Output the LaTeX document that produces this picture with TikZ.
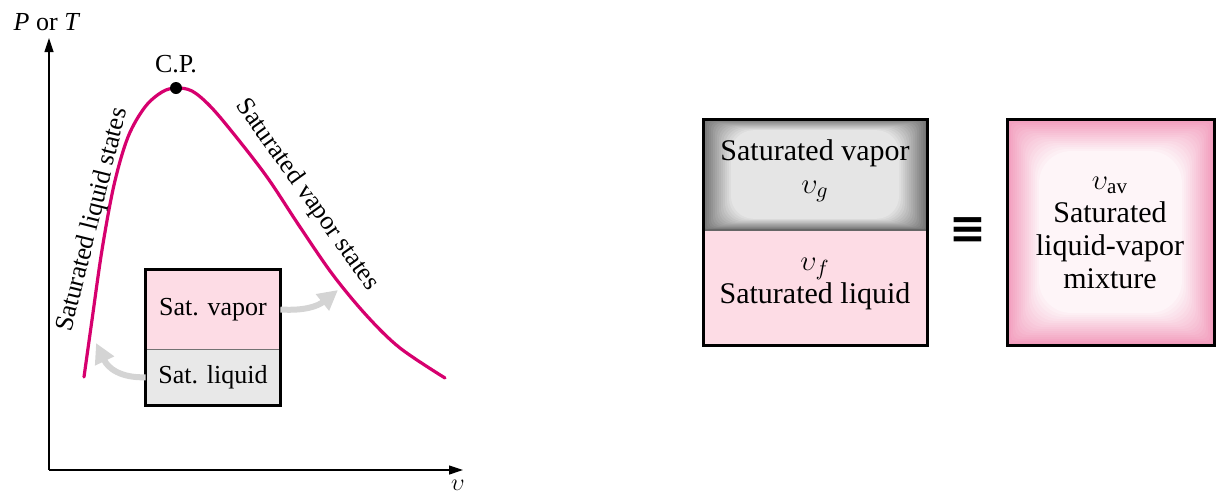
\documentclass[tikz,border=0pt]{standalone}
\usepackage{fontspec}
\setmainfont{Liberation Serif}
\newfontfamily\symfont{DejaVu Sans}
\usetikzlibrary{arrows.meta,positioning,calc}
\definecolor{satline}{RGB}{214,0,110}
\definecolor{vappink}{HTML}{FDDCE5}
\definecolor{liqgray}{HTML}{E8E8E8}
\definecolor{mixedge}{HTML}{F29CBC}
\definecolor{hintgray}{HTML}{D4D4D4}

\begin{document}
\begin{tikzpicture}[x=0.5pt, y=-0.5pt,
  axis/.style={line width=0.6pt, -{Triangle[length=7pt,width=4.5pt]}},
  dome/.style={satline, line width=1.6pt, line cap=round},
  lbl/.style={font=\fontsize{13}{15}\selectfont, inner sep=1pt},
  phase/.style={minimum width=67pt, inner sep=0pt, font=\fontsize{13}{15}\selectfont},
  hint/.style={hintgray, line width=3pt, -{Triangle[length=10pt,width=10pt]}},
  big/.style={font=\fontsize{15}{16.5}\selectfont, align=center, inner sep=0pt}]
  \useasboundingbox (0,0) rectangle (1216,493);

  % axes
  \coordinate (origin) at (49,470);
  \coordinate (ytip) at (49,38);
  \coordinate (xtip) at (463,470);
  \draw[axis] (origin) -- (ytip);
  \draw[axis] (origin) -- (xtip);
  \node[lbl] (ylab) at (47,22) {\textit{P} or \textit{T}};
  \node[lbl] (xlab) at (458,485) {$\upsilon$};

  % saturation dome
  \draw[dome] plot[smooth, tension=0.55] coordinates {(84,377) (92,320) (102,250)
    (114,185) (128,137) (145,107) (162,92) (176,88) (192,91) (210,106) (233,133)
    (267,177) (300,227) (333,275) (367,316) (400,348) (445,378)};
  \node[circle, fill, inner sep=0pt, minimum size=6pt] (cp) at (176,88) {};
  \node[lbl, above=3pt of cp] (cplab) {C.P.};
  \node[lbl, rotate=76] (liqstates) at (93,220) {Saturated liquid states};
  \node[lbl, rotate=-54.5] (vapstates) at (307,195) {Saturated vapor states};

  % small phase box
  \node[phase, minimum height=39.5pt, fill=vappink] (vap) at (213,309.5) {Sat. vapor};
  \node[phase, minimum height=27.5pt, fill=liqgray, below=0pt of vap] (liq) {Sat. liquid};
  \draw[black!55, line width=0.5pt] (vap.south west) -- (vap.south east);
  \draw[line width=1.5pt] (vap.north west) rectangle (liq.south east);
  \draw[hint] (liq.west) .. controls (120,378) and (108,368) .. (96,343);
  \draw[hint] (vap.east) .. controls (305,311) and (318,306) .. (338,290);

  % two-phase tank
  \coordinate (gnw) at (703,119);
  \coordinate (gse) at (927,230);
  \foreach \k [evaluate=\k as \p using 55-3.2*\k] in {0,...,14}
    \fill[black!\p, rounded corners=\k*0.8pt+0.1pt]
      ($(gnw)+(2*\k,0.8*\k)$) rectangle ($(gse)-(2*\k,0.8*\k)$);
  \fill[vappink] (703,230) rectangle (927,345);
  \node[big] (gtxt) at (815,171) {Saturated vapor\\$\upsilon_g$};
  \node[big] (ftxt) at (815,284) {$\upsilon_f$\\Saturated liquid};
  \draw[black!60, line width=0.6pt] (703,230) -- (927,230);
  \draw[line width=1.5pt] (703,119) rectangle (927,345);

  \node[font=\fontsize{22}{22}\selectfont\symfont\bfseries] (eqv) at (968,231) {≡};

  % mixture tank
  \coordinate (mnw) at (1007,119);
  \coordinate (mse) at (1214,345);
  \foreach \k [evaluate=\k as \p using 100-5.6*\k] in {0,...,16}
    \fill[mixedge!\p!white, rounded corners=\k*1pt+0.1pt]
      ($(mnw)+(2*\k,2*\k)$) rectangle ($(mse)-(2*\k,2*\k)$);
  \node[big] (mtxt) at (1110,233) {$\upsilon_{\mathrm{av}}$\\Saturated\\liquid-vapor\\mixture};
  \draw[line width=1.5pt] (mnw) rectangle (mse);
\end{tikzpicture}
\end{document}
